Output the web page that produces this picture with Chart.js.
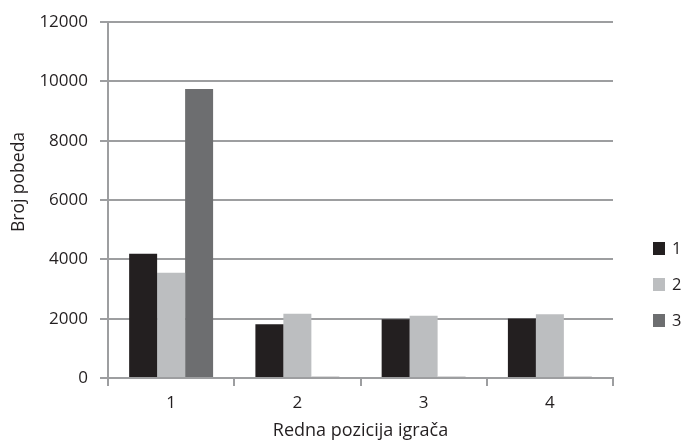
<!DOCTYPE html>
<html>
<head>
<meta charset="utf-8">
<script src="https://cdn.jsdelivr.net/npm/chart.js@4/dist/chart.umd.min.js"></script>
<style>
  html, body { margin: 0; padding: 0; background: #fff; }
  #wrap { width: 682px; height: 442px; }
</style>
</head>
<body>
<div id="wrap"><canvas id="c" width="682" height="442"></canvas></div>
<script>
// Wins per starting position, one series per player
const categories = ['1', '2', '3', '4'];
const seriesNames = ['1', '2', '3'];
const series1 = [4190, 1810, 1980, 2010];
const series2 = [3550, 2170, 2100, 2150];
const series3 = [9750, 40, 40, 40];
const yTicks = [0, 2000, 4000, 6000, 8000, 10000, 12000];
const yTitle = 'Broj pobeda';
const xTitle = 'Redna pozicija igrača';

const colors = ['#231f20', '#bcbec0', '#6d6e70'];
const gridColor = '#9d9ea0';
const textColor = '#231f20';
const FONT = "'Open Sans', 'Noto Sans', sans-serif";

// Vertical legend on the right and the rotated y-axis title
const sideDecor = {
  id: 'sideDecor',
  afterDraw(chart) {
    const ctx = chart.ctx;
    ctx.save();
    ctx.font = '16.5px ' + FONT;
    ctx.textBaseline = 'middle';
    ctx.textAlign = 'left';
    chart.data.datasets.forEach((ds, i) => {
      const cy = 248 + i * 36;
      ctx.fillStyle = ds.backgroundColor;
      ctx.fillRect(653, cy - 6, 12, 13);
      ctx.fillStyle = textColor;
      ctx.fillText(ds.label, 672, cy + 1);
    });
    ctx.restore();

    ctx.save();
    ctx.font = '17.5px ' + FONT;
    ctx.fillStyle = textColor;
    ctx.textAlign = 'center';
    ctx.textBaseline = 'middle';
    ctx.translate(19, 182);
    ctx.rotate(-Math.PI / 2);
    ctx.fillText(yTitle, 0, 0);
    ctx.restore();
  }
};

new Chart(document.getElementById('c'), {
  type: 'bar',
  data: {
    labels: categories,
    datasets: [series1, series2, series3].map((d, i) => ({
      label: seriesNames[i],
      data: d,
      backgroundColor: colors[i],
      borderWidth: 0,
      categoryPercentage: 0.665,
      barPercentage: 1.0
    }))
  },
  options: {
    responsive: false,
    animation: false,
    devicePixelRatio: 1,
    layout: { padding: { top: 20, right: 69, left: 0, bottom: 0 } },
    plugins: {
      legend: { display: false },
      tooltip: { enabled: false }
    },
    scales: {
      x: {
        afterFit(scale) { scale.height = 64; },
        grid: {
          offset: true,
          drawOnChartArea: false,
          drawTicks: true,
          tickLength: 8,
          color: gridColor,
          lineWidth: 2
        },
        border: { display: true, color: gridColor, width: 2 },
        ticks: { color: textColor, font: { family: FONT, size: 17 }, padding: 7 },
        title: {
          display: true,
          text: xTitle,
          color: textColor,
          font: { family: FONT, size: 18 },
          padding: { top: 0, bottom: 0 }
        }
      },
      y: {
        min: 0,
        max: 12000,
        afterFit(scale) { scale.width = 108; },
        afterBuildTicks(scale) { scale.ticks = yTicks.map(v => ({ value: v })); },
        grid: {
          color: gridColor,
          lineWidth: 2,
          tickLength: 8,
          drawTicks: true
        },
        border: { display: true, color: gridColor, width: 2 },
        ticks: {
          color: textColor,
          font: { family: FONT, size: 17 },
          padding: 12,
          callback: v => String(v)
        },
        title: { display: false }
      }
    }
  },
  plugins: [sideDecor]
});
</script>
</body>
</html>
